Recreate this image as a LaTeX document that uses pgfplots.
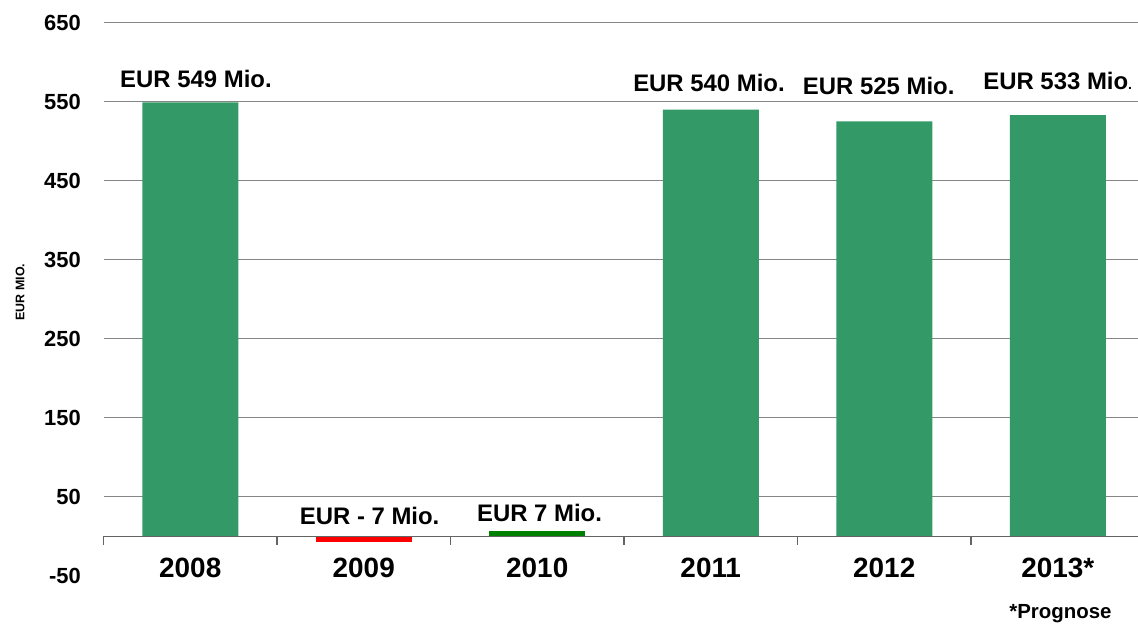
\documentclass[border=0pt]{standalone}
\usepackage{fontspec}
\setmainfont{Liberation Sans}
\usepackage{pgfplots}
\pgfplotsset{compat=1.18}
\definecolor{barg}{RGB}{51,153,102}
\definecolor{darkg}{RGB}{0,128,0}
\definecolor{gridc}{RGB}{134,134,134}
\definecolor{zeroc}{RGB}{100,100,100}
\newcommand{\lab}{\fontsize{24}{24}\selectfont\bfseries}
\begin{document}
\begin{tikzpicture}
\begin{axis}[
  at={(103.5bp,49.3bp)}, anchor=south west,
  scale only axis, width=1034.5bp, height=553bp,
  xmin=-0.5, xmax=5.4625, ymin=-50, ymax=650,
  clip=false,
  axis line style={draw=none},
  ytick={-50,50,150,250,350,450,550,650},
  yticklabels={-50,50,150,250,350,450,550,650},
  yticklabel style={anchor=east, inner sep=0pt, xshift=-22.5bp, font=\fontsize{22}{22}\selectfont\bfseries},
  extra y ticks={50,150,250,350,450,550,650},
  extra y tick labels={},
  extra y tick style={grid=major},
  grid style={gridc, line width=1.3bp},
  major tick length=0pt,
  xtick={0,1,2,3,4,5},
  xticklabels={2008,2009,2010,2011,2012,2013*},
  xticklabel style={anchor=base, inner sep=0pt, yshift=-1.3bp, font=\fontsize{28}{28}\selectfont\bfseries},
  ylabel={EUR MIO.},
  ylabel style={at={(axis description cs:-0.0807,0.513)}, anchor=center, font=\fontsize{12.5}{12.5}\selectfont\bfseries},
  ybar, bar width=96bp,
]
\addplot[fill=barg, draw=none, bar shift=0pt] coordinates {(0,549) (3,540) (4,525) (5,533)};
\addplot[fill=red, draw=none, bar shift=0pt] coordinates {(1,-7)};
\addplot[fill=darkg, draw=none, bar shift=0pt] coordinates {(2,7)};
\draw[zeroc, line width=1.3bp] (axis cs:-0.5,0) -- (axis cs:5.4625,0);
\draw[zeroc, line width=1.3bp] (axis cs:-0.5,0) -- ++(0bp,-9bp);
\draw[zeroc, line width=1.3bp] (axis cs:0.5,0) -- ++(0bp,-9bp);
\draw[zeroc, line width=1.3bp] (axis cs:1.5,0) -- ++(0bp,-9bp);
\draw[zeroc, line width=1.3bp] (axis cs:2.5,0) -- ++(0bp,-9bp);
\draw[zeroc, line width=1.3bp] (axis cs:3.5,0) -- ++(0bp,-9bp);
\draw[zeroc, line width=1.3bp] (axis cs:4.5,0) -- ++(0bp,-9bp);
\node[anchor=base, font=\lab, inner sep=0pt] at (axis cs:0.033,568.6) {EUR 549 Mio.};
\node[anchor=base, font=\lab, inner sep=0pt] at (axis cs:1.034,14.2) {EUR - 7 Mio.};
\node[anchor=base, font=\lab, inner sep=0pt] at (axis cs:2.013,18.4) {EUR 7 Mio.};
\node[anchor=base, font=\lab, inner sep=0pt] at (axis cs:2.990,562.7) {EUR 540 Mio.};
\node[anchor=base, font=\lab, inner sep=0pt] at (axis cs:3.968,558.5) {EUR 525 Mio.};
\node[anchor=base, font=\lab, inner sep=0pt] at (axis cs:5.000,565) {EUR 533 Mio{\fontsize{14}{14}\selectfont.}};
\node[anchor=base, font=\fontsize{20.5}{20.5}\selectfont\bfseries, inner sep=0pt] at (axis description cs:0.925,-0.0783) {*Prognose};
\end{axis}
\pgfresetboundingbox
\useasboundingbox (0bp,0bp) rectangle (1138bp,625bp);
\end{tikzpicture}
\end{document}
